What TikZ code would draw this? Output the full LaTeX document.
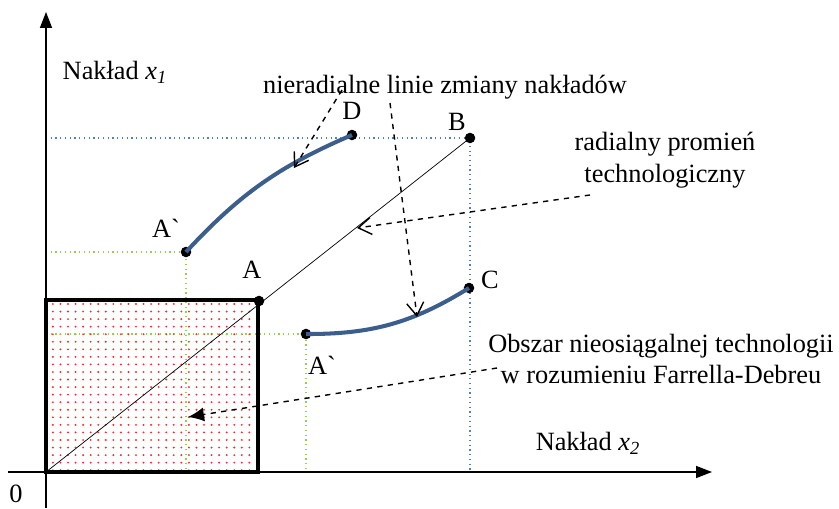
\documentclass[tikz,border=0pt]{standalone}
\usepackage{fontspec}
\setmainfont{Liberation Serif}
\usepackage{tikz}
\usetikzlibrary{arrows.meta,positioning,patterns.meta}

\definecolor{curveblue}{RGB}{59,94,140}
\definecolor{lineblue}{RGB}{79,129,189}
\definecolor{linegreen}{RGB}{146,208,80}

\begin{document}
\begin{tikzpicture}[font=\fontsize{15}{18}\selectfont,
	pt/.style={circle,fill=black,inner sep=0pt,minimum size=6pt},
	lbl/.style={inner sep=1pt},
	route/.style={curveblue,line width=2.3pt},
	guide/.style={line width=0.7pt,dotted},
	note/.style={dashed,line width=0.8pt}]
			\useasboundingbox (-0.92,-0.72) rectangle (15.86,9.44);
			% unreachable region
			\fill[pattern={Dots[distance=4.3pt,radius=0.6pt]},pattern color=red!85] (0,0) rectangle (4.24,3.44);
			\draw[guide,lineblue] (0,6.68) -- (8.48,6.68) -- (8.48,0);
			\draw[guide,linegreen] (0,4.4) -- (2.8,4.4) -- (2.8,0);
			\draw[guide,linegreen] (0,2.76) -- (5.2,2.76) -- (5.2,0);
			\draw[line width=2pt] (0,0) rectangle (4.24,3.44);
			% axes
			\draw[line width=0.9pt,-{Triangle[length=3.2mm,width=2.4mm]}] (0,-0.72) -- (0,9.2);
			\draw[line width=0.9pt,-{Triangle[length=3.2mm,width=2.4mm]}] (-0.76,0) -- (13.32,0);
			\node[lbl] (zero) at (-0.6,-0.44) {0};
			\node[lbl] (ax1) at (1.38,8.0) {Nakład \textit{x\textsubscript{1}}};
			\node[lbl] (ax2) at (10.84,0.58) {Nakład \textit{x\textsubscript{2}}};
			% points
			\node[pt] (pA) at (4.26,3.42) {};
			\node[pt] (pB) at (8.48,6.68) {};
			\node[pt] (pD) at (6.12,6.74) {};
			\node[pt] (pA1) at (2.8,4.4) {};
			\node[pt] (pA2) at (5.2,2.76) {};
			\node[pt] (pC) at (8.46,3.68) {};
			\node[lbl] (lA) at (4.12,4.04) {A};
			\node[lbl] (lB) at (8.22,7.0) {B};
			\node[lbl] (lD) at (6.12,7.22) {D};
			\node[lbl] (lA1) at (2.4,4.88) {A\textasciigrave};
			\node[lbl] (lA2) at (5.52,2.14) {A\textasciigrave};
			\node[lbl] (lC) at (8.88,3.84) {C};
			% radial ray and non-radial paths
			\draw[line width=0.4pt] (0,0) -- (pB.center);
			\draw[route] (pA1.center) to[bend left=12] (pD.center);
			\draw[route] (pA2.center) to[bend right=16] (pC.center);
			% notes
			\node[lbl] (niera) at (7.98,7.7) {nieradialne linie zmiany nakładów};
			\node[lbl,align=center] (radial) at (12.38,6.24) {radialny promień\\technologiczny};
			\node[lbl,align=center] (obszar) at (12.3,2.26) {Obszar nieosiągalnej technologii\\w rozumieniu Farrella-Debreu};
			\coordinate (n1) at (5.92,7.64);
			\coordinate (n2) at (6.88,7.38);
			\coordinate (r1) at (10.88,5.54);
			\coordinate (o1) at (9.02,2.08);
			\coordinate (t1) at (4.96,6.08);
			\coordinate (t2) at (7.42,3.1);
			\coordinate (t3) at (6.22,4.88);
			\coordinate (t4) at (2.84,1.1);
			\draw[note,-{Straight Barb[length=2.6mm,width=3.4mm]}] (n1) -- (t1);
			\draw[note,-{Straight Barb[length=2.6mm,width=3.4mm]}] (n2) -- (t2);
			\draw[note,-{Straight Barb[length=2.6mm,width=3.4mm]}] (r1) -- (t3);
			\draw[note,-{Latex[length=3.2mm,width=2.8mm]}] (o1) -- (t4);
		\end{tikzpicture}
\end{document}
